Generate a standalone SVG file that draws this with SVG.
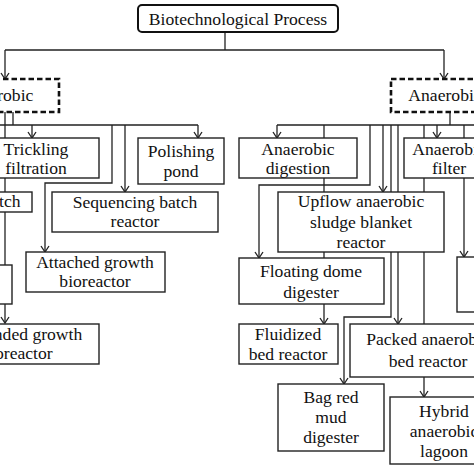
<svg xmlns="http://www.w3.org/2000/svg" width="474" height="474" viewBox="0 0 474 474">
<style>
.c{fill:none;stroke:#222;stroke-width:1.3}
.b{fill:#fff;stroke:#222;stroke-width:1.4}
.d{fill:#fff;stroke:#111;stroke-width:2.6;stroke-dasharray:5.5 3}
text{font-family:"Liberation Serif","Times New Roman",serif;font-size:17.6px;fill:#111;text-anchor:middle}
</style>
<defs>
<marker id="a" markerUnits="userSpaceOnUse" markerWidth="10" markerHeight="10" viewBox="0 0 10 10" refX="7" refY="5" orient="auto">
<path d="M1,1 L7,5 L1,9" fill="none" stroke="#222" stroke-width="1.3"/>
</marker>
</defs>
<g id="connectors">
<path class="c" d="M225,32 V50 M5,50 H444"/>
<path class="c" marker-end="url(#a)" d="M5,50 V79"/>
<path class="c" marker-end="url(#a)" d="M444,50 V79"/>
<path class="c" d="M13,112 V125 M0,125 H198"/>
<path class="c" marker-end="url(#a)" d="M5,112 V323"/>
<path class="c" marker-end="url(#a)" d="M32,125 V138"/>
<path class="c" marker-end="url(#a)" d="M198,125 V138"/>
<path class="c" marker-end="url(#a)" d="M125,125 V192"/>
<path class="c" marker-end="url(#a)" d="M112,125 V183 H45 V252"/>
<path class="c" d="M450,112 V125 M277,125 H474"/>
<path class="c" marker-end="url(#a)" d="M277,125 V138"/>
<path class="c" marker-end="url(#a)" d="M324,125 V324"/>
<path class="c" marker-end="url(#a)" d="M370,125 V185 H259 V258"/>
<path class="c" marker-end="url(#a)" d="M383,125 V192"/>
<path class="c" marker-end="url(#a)" d="M391,125 V317 H344 V384"/>
<path class="c" marker-end="url(#a)" d="M398,125 V324"/>
<path class="c" marker-end="url(#a)" d="M424,125 V397"/>
<path class="c" marker-end="url(#a)" d="M437,125 V138"/>
<path class="c" marker-end="url(#a)" d="M464,125 V257"/>
</g>
<g id="root"><rect x="138" y="5" width="200" height="27" rx="4" fill="#fff" stroke="#111" stroke-width="2"/><text x="238" y="25">Biotechnological Process</text></g>
<g id="aerobic"><rect class="d" x="-48" y="79" width="107" height="33"/><text x="5" y="101">Aerobic</text></g>
<g id="anaerobic"><rect class="d" x="391" y="79" width="107" height="33"/><text x="445" y="101">Anaerobic</text></g>
<g id="trickling"><rect class="b" x="-27" y="138" width="126" height="40"/><text x="36" y="155">Trickling</text><text x="36" y="174">filtration</text></g>
<g id="polishing"><rect class="b" x="138" y="138" width="86" height="46"/><text x="181" y="157">Polishing</text><text x="181" y="177">pond</text></g>
<g id="batch"><rect class="b" x="-40" y="192" width="72" height="20"/><text x="0" y="207">Batch</text></g>
<g id="sbr"><rect class="b" x="52" y="192" width="166" height="40"/><text x="135" y="208">Sequencing batch</text><text x="135" y="227">reactor</text></g>
<g id="attached"><rect class="b" x="26" y="252" width="139" height="40"/><text x="95" y="268">Attached growth</text><text x="95" y="287">bioreactor</text></g>
<g id="left-unknown"><rect class="b" x="-40" y="265" width="52" height="39"/></g>
<g id="suspended"><rect class="b" x="-65" y="324" width="164" height="40"/><text x="17" y="340">Suspended growth</text><text x="17" y="359">bioreactor</text></g>
<g id="digestion"><rect class="b" x="239" y="138" width="118" height="40"/><text x="298" y="155">Anaerobic</text><text x="298" y="174">digestion</text></g>
<g id="filter"><rect class="b" x="404" y="138" width="90" height="40"/><text x="449" y="155">Anaerobic</text><text x="449" y="174">filter</text></g>
<g id="uasb"><rect class="b" x="278" y="192" width="166" height="60"/><text x="361" y="207">Upflow anaerobic</text><text x="361" y="228">sludge blanket</text><text x="361" y="248">reactor</text></g>
<g id="right-unknown"><rect class="b" x="457" y="257" width="40" height="55"/></g>
<g id="floating"><rect class="b" x="239" y="258" width="145" height="46"/><text x="311" y="277">Floating dome</text><text x="311" y="298">digester</text></g>
<g id="fluidized"><rect class="b" x="239" y="324" width="99" height="40"/><text x="288" y="340">Fluidized</text><text x="288" y="360">bed reactor</text></g>
<g id="packed"><rect class="b" x="350" y="324" width="156" height="53"/><text x="428" y="345">Packed anaerobic</text><text x="428" y="367">bed reactor</text></g>
<g id="bag"><rect class="b" x="278" y="384" width="106" height="67"/><text x="331" y="403">Bag red</text><text x="331" y="423">mud</text><text x="331" y="443">digester</text></g>
<g id="hybrid"><rect class="b" x="390" y="397" width="108" height="67"/><text x="444" y="417">Hybrid</text><text x="444" y="437">anaerobic</text><text x="444" y="457">lagoon</text></g>
</svg>
